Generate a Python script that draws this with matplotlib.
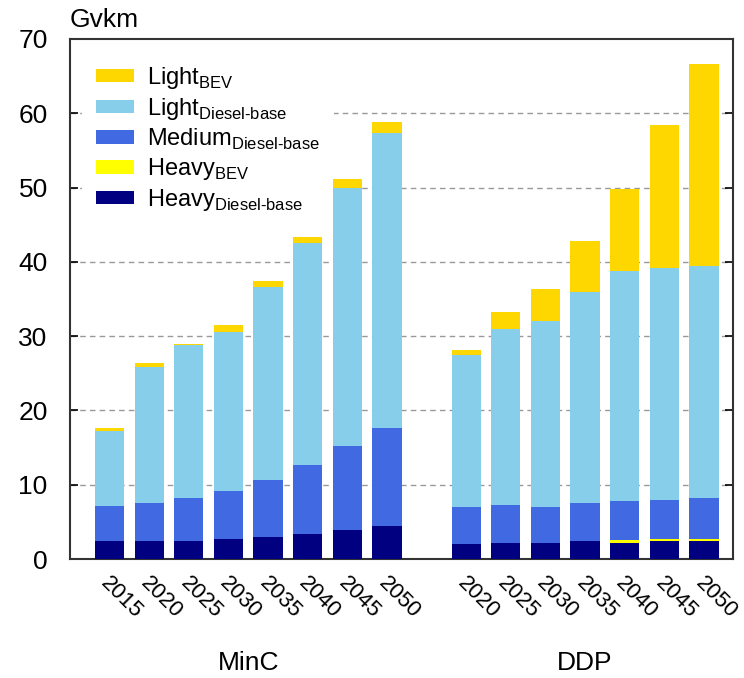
import matplotlib
matplotlib.use("Agg")
import matplotlib.pyplot as plt
import matplotlib.transforms as mtransforms
import numpy as np

plt.rcParams["font.family"] = ["Liberation Sans", "DejaVu Sans"]
plt.rcParams["mathtext.fontset"] = "custom"
plt.rcParams["mathtext.rm"] = "Liberation Sans"

# data (Gvkm), stacked bottom -> top
minc_years = ["2015", "2020", "2025", "2030", "2035", "2040", "2045", "2050"]
ddp_years = ["2020", "2025", "2030", "2035", "2040", "2045", "2050"]

minc_heavy_diesel = [2.4, 2.4, 2.4, 2.7, 2.9, 3.3, 3.9, 4.4]
minc_heavy_bev = [0, 0, 0, 0, 0, 0, 0, 0]
minc_medium_diesel = [4.8, 5.1, 5.8, 6.5, 7.8, 9.3, 11.3, 13.3]
minc_light_diesel = [10.0, 18.4, 20.6, 21.3, 25.9, 30.0, 34.7, 39.7]
minc_light_bev = [0.4, 0.5, 0.2, 1.0, 0.8, 0.8, 1.2, 1.4]

ddp_heavy_diesel = [2.0, 2.2, 2.2, 2.45, 2.2, 2.45, 2.45]
ddp_heavy_bev = [0, 0, 0, 0, 0.3, 0.25, 0.25]
ddp_medium_diesel = [5.05, 5.1, 4.85, 5.1, 5.3, 5.3, 5.55]
ddp_light_diesel = [20.35, 23.7, 24.95, 28.45, 31.0, 31.2, 31.15]
ddp_light_bev = [0.8, 2.3, 4.3, 6.8, 11.0, 19.2, 27.3]

scenarios = ["MinC", "DDP"]

series = [
    ("Heavy", "Diesel\u2010base", "#000080", minc_heavy_diesel, ddp_heavy_diesel),
    ("Heavy", "BEV", "#FFFF00", minc_heavy_bev, ddp_heavy_bev),
    ("Medium", "Diesel\u2010base", "#4169E1", minc_medium_diesel, ddp_medium_diesel),
    ("Light", "Diesel\u2010base", "#87CEEB", minc_light_diesel, ddp_light_diesel),
    ("Light", "BEV", "#FFD700", minc_light_bev, ddp_light_bev),
]

x_minc = np.arange(len(minc_years))
x_ddp = np.arange(len(ddp_years)) + len(minc_years) + 1
x = np.concatenate([x_minc, x_ddp])
labels = minc_years + ddp_years

fig = plt.figure(figsize=(7.44, 6.78), dpi=100)
ax = fig.add_axes([0.094, 0.1755, 0.891, 0.767])

bottom = np.zeros(len(x))
handles = []
for name, sub, color, v1, v2 in series:
    vals = np.array(v1 + v2, dtype=float)
    b = ax.bar(x, vals, 0.74, bottom=bottom, color=color, edgecolor="none",
               label=r"%s$_{\mathregular{%s}}$" % (name, sub), zorder=3)
    bottom += vals
    handles.append(b)

ax.set_xlim(-1.0, 15.73)
ax.set_ylim(0, 70)
ax.set_yticks(range(0, 71, 10))
for yv in range(10, 70, 10):
    ax.axhline(yv, color="#999999", lw=1, ls=(0, (4, 3)), zorder=1)

ax.tick_params(axis="y", direction="in", length=6, width=1.2, right=True,
               labelsize=19, pad=16)
ax.set_xticks(x)
ax.set_xticklabels(labels, rotation=-45, ha="left", rotation_mode="anchor",
                   fontsize=16)
ax.tick_params(axis="x", length=0, pad=10)
offset = mtransforms.ScaledTranslation(2 / 100, 0, fig.dpi_scale_trans)
for lab in ax.get_xticklabels():
    lab.set_transform(lab.get_transform() + offset)

for sp in ax.spines.values():
    sp.set_linewidth(1.5)
    sp.set_color("#333333")

# group labels
ax.text(np.mean(x_minc), -0.2, scenarios[0], transform=ax.get_xaxis_transform(),
        ha="center", va="center", fontsize=19)
ax.text(np.mean(x_ddp), -0.2, scenarios[1], transform=ax.get_xaxis_transform(),
        ha="center", va="center", fontsize=19)

ax.annotate("Gvkm", xy=(0, 1), xycoords="axes fraction", xytext=(0, 5),
            textcoords="offset points", ha="left", va="bottom", fontsize=19)

leg = ax.legend(handles[::-1], [h.get_label() for h in handles[::-1]],
                loc="upper left", bbox_to_anchor=(0.0, 1.0), fontsize=17,
                frameon=True, facecolor="white", edgecolor="none", framealpha=1,
                fancybox=False, handlelength=1.6, handleheight=0.5,
                labelspacing=0.2, borderpad=0.6, handletextpad=0.55)
leg.set_zorder(2)

fig.savefig("out.png", dpi=100)
